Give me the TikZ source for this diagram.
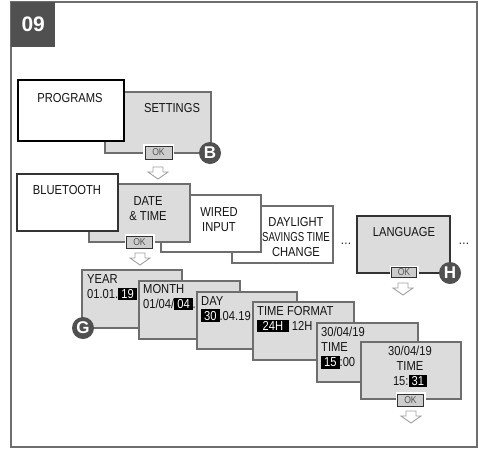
\documentclass[tikz,border=0pt]{standalone}
\usepackage{fontspec}
\usepackage{graphicx}
\setmainfont{Liberation Sans}[FakeStretch=0.86]
\newfontfamily\plainsans{Liberation Sans}
\definecolor{boxfill}{HTML}{DCDCDC}
\definecolor{edge}{HTML}{6E6E6E}
\definecolor{darkedge}{HTML}{333333}
\definecolor{badge}{HTML}{505050}
\definecolor{okfill}{HTML}{CDCDCD}
\definecolor{oktext}{HTML}{555555}
\definecolor{arrowgray}{HTML}{A0A0A0}
\definecolor{txt}{HTML}{141414}
\newcommand\blk[1]{{\setlength{\fboxsep}{1.6pt}\colorbox{black}{\hspace{1.4pt}\textcolor{white}{#1}\hspace{1.4pt}}}}
\tikzset{
  gbox/.style={draw=edge, fill=boxfill, line width=1.1pt, inner sep=0pt},
  wbox/.style={draw=edge, fill=white, line width=1.1pt, inner sep=0pt},
  lbl/.style={text=txt, inner sep=0pt, font=\fontsize{13}{15}\selectfont},
  okbtn/.style={draw=darkedge, fill=okfill, line width=0.9pt, minimum width=26pt, minimum height=12pt,
    inner sep=0pt, text=oktext, font=\fontsize{10}{10}\selectfont,
    preaction={draw=white, line width=4pt}},
  badgecirc/.style={circle, fill=badge, minimum size=22pt, inner sep=0pt, text=white,
    font=\plainsans\fontsize{17}{17}\selectfont\bfseries},
  dotsl/.style={inner sep=0pt, text=txt, font=\fontsize{13}{13}\selectfont},
  downarr/.pic={\draw[draw=arrowgray, fill=white, line width=0.9pt, line join=miter]
    (-5,0) -- (5,0) -- (5,5) -- (10,5) -- (0,12) -- (-10,5) -- (-5,5) -- cycle;}
}
\begin{document}
\begin{tikzpicture}[x=1pt,y=-1pt]
\useasboundingbox (0,0) rectangle (478,450);
% frame and number tab
\draw[edge, line width=1.5pt] (11,2) rectangle (477,447);
\node[fill=badge, minimum width=44pt, minimum height=45pt, inner sep=0pt, anchor=north west,
  text=white, font=\plainsans\fontsize{21}{21}\selectfont\bfseries] (tab) at (11,2) {09};

% row 1
\node[gbox, minimum width=106pt, minimum height=61pt] (settings) at (158,122.5) {};
\node[lbl] (settingsT) at (172,108) {SETTINGS};
\node[wbox, draw=black, line width=1.2pt, minimum width=106pt, minimum height=61pt] (programs) at (71,110.5) {};
\node[lbl] (programsT) at (70,98) {PROGRAMS};
\node[okbtn, minimum width=27pt, minimum height=13pt] (ok1) at (158.5,152.5) {OK};
\node[badgecirc] (B) at (210,153) {B};
\coordinate (a1) at (158,167);
\pic at (a1) {downarr};

% row 2
\node[wbox, minimum width=101pt, minimum height=57pt] (daylight) at (282.5,234.5) {};
\node[lbl, align=center] (daylightT) at (296,237) {DAYLIGHT\\\scalebox{0.86}[1]{SAVINGS TIME}\\CHANGE};
\node[wbox, minimum width=100pt, minimum height=57pt] (wired) at (211,223.5) {};
\node[lbl, align=center] (wiredT) at (219,219.5) {WIRED\\INPUT};
\node[gbox, minimum width=101pt, minimum height=58pt] (date) at (139.5,213) {};
\node[lbl, align=center] (dateT) at (148,208.5) {DATE\\\&{} TIME};
\node[wbox, draw=darkedge, minimum width=101pt, minimum height=57pt] (bt) at (67.5,202.5) {};
\node[lbl] (btT) at (67,190) {BLUETOOTH};
\node[okbtn] (ok2) at (139.5,242) {OK};
\coordinate (a2) at (140,253);
\pic at (a2) {downarr};

\node[dotsl] (dots1) at (346,244) {\dots};
\node[gbox, draw=darkedge, minimum width=93pt, minimum height=57pt] (lang) at (403.5,244.5) {};
\node[lbl] (langT) at (404,232) {LANGUAGE};
\node[okbtn, minimum width=25pt, minimum height=10pt] (ok3) at (404,272.5) {OK};
\node[badgecirc] (H) at (450,273) {H};
\coordinate (a3) at (403,283);
\pic at (a3) {downarr};
\node[dotsl] (dots2) at (464,244) {\dots};

% row 3
\node[gbox, minimum width=100pt, minimum height=58pt] (year) at (132,299) {};
\node[lbl, align=left, anchor=west] (yearT) at (87,287.5) {YEAR\\01.01.\blk{19}};
\node[badgecirc] (G) at (83,328) {G};
\node[gbox, minimum width=101pt, minimum height=58pt] (month) at (189.5,310) {};
\node[lbl, align=left, anchor=west] (monthT) at (143,297.5) {MONTH\\01/04/\blk{04}.};
\node[gbox, minimum width=100pt, minimum height=57pt] (day) at (247,320.5) {};
\node[lbl, align=left, anchor=west] (dayT) at (201,309) {DAY\\\blk{30}.04.19};
\node[gbox, minimum width=101pt, minimum height=58pt] (tf) at (303.5,331) {};
\node[lbl, align=left, anchor=west] (tfT) at (257,319.5) {TIME FORMAT\\\blk{\hspace{2.5pt}24H\hspace{2.5pt}} 12H};
\node[gbox, minimum width=101pt, minimum height=59pt] (t3) at (367.5,352.5) {};
\node[lbl, align=left, anchor=west] (t3T) at (321,348) {30/04/19\\TIME\\\blk{15}:00};
\node[gbox, minimum width=100pt, minimum height=57pt] (t4) at (411,370.5) {};
\node[lbl, align=center] (t4T) at (410,366.5) {30/04/19\\TIME\\15:\blk{31}};
\node[okbtn] (ok4) at (410.5,400) {OK};
\coordinate (a4) at (411,411);
\pic at (a4) {downarr};
\end{tikzpicture}
\end{document}
